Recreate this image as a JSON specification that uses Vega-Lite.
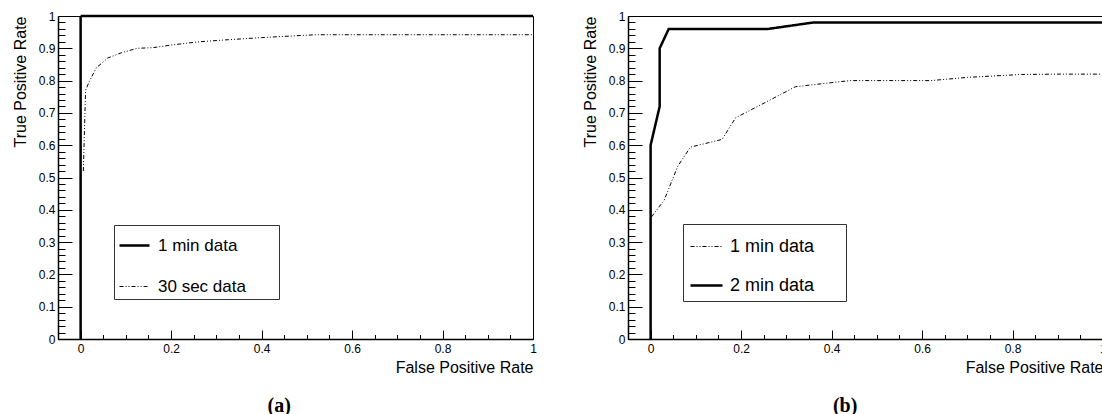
{
  "$schema": "https://vega.github.io/schema/vega-lite/v6.json",
  "background": "white",
  "padding": {"left": 11, "top": 9, "right": 0, "bottom": 0},
  "spacing": 42,
  "config": {
    "view": {"stroke": "#000", "strokeWidth": 1}
  },
  "datasets": {
    "roc": [
      {"panel": "a", "series": "1 min data", "ord": 1, "fpr": 0, "tpr": 0},
      {"panel": "a", "series": "1 min data", "ord": 2, "fpr": 0, "tpr": 1},
      {"panel": "a", "series": "1 min data", "ord": 3, "fpr": 1, "tpr": 1},
      {"panel": "a", "series": "30 sec data", "ord": 1, "fpr": 0.006, "tpr": 0.52},
      {"panel": "a", "series": "30 sec data", "ord": 2, "fpr": 0.011, "tpr": 0.77},
      {"panel": "a", "series": "30 sec data", "ord": 3, "fpr": 0.02, "tpr": 0.8},
      {"panel": "a", "series": "30 sec data", "ord": 4, "fpr": 0.035, "tpr": 0.84},
      {"panel": "a", "series": "30 sec data", "ord": 5, "fpr": 0.06, "tpr": 0.87},
      {"panel": "a", "series": "30 sec data", "ord": 6, "fpr": 0.09, "tpr": 0.886},
      {"panel": "a", "series": "30 sec data", "ord": 7, "fpr": 0.125, "tpr": 0.9},
      {"panel": "a", "series": "30 sec data", "ord": 8, "fpr": 0.16, "tpr": 0.902},
      {"panel": "a", "series": "30 sec data", "ord": 9, "fpr": 0.2, "tpr": 0.91},
      {"panel": "a", "series": "30 sec data", "ord": 10, "fpr": 0.26, "tpr": 0.92},
      {"panel": "a", "series": "30 sec data", "ord": 11, "fpr": 0.32, "tpr": 0.926},
      {"panel": "a", "series": "30 sec data", "ord": 12, "fpr": 0.4, "tpr": 0.933},
      {"panel": "a", "series": "30 sec data", "ord": 13, "fpr": 0.45, "tpr": 0.937},
      {"panel": "a", "series": "30 sec data", "ord": 14, "fpr": 0.52, "tpr": 0.942},
      {"panel": "a", "series": "30 sec data", "ord": 15, "fpr": 0.7, "tpr": 0.942},
      {"panel": "a", "series": "30 sec data", "ord": 16, "fpr": 1, "tpr": 0.942},
      {"panel": "b", "series": "2 min data", "ord": 1, "fpr": 0, "tpr": 0},
      {"panel": "b", "series": "2 min data", "ord": 2, "fpr": 0, "tpr": 0.6},
      {"panel": "b", "series": "2 min data", "ord": 3, "fpr": 0.02, "tpr": 0.72},
      {"panel": "b", "series": "2 min data", "ord": 4, "fpr": 0.02, "tpr": 0.9},
      {"panel": "b", "series": "2 min data", "ord": 5, "fpr": 0.04, "tpr": 0.96},
      {"panel": "b", "series": "2 min data", "ord": 6, "fpr": 0.26, "tpr": 0.96},
      {"panel": "b", "series": "2 min data", "ord": 7, "fpr": 0.36, "tpr": 0.98},
      {"panel": "b", "series": "2 min data", "ord": 8, "fpr": 1, "tpr": 0.98},
      {"panel": "b", "series": "1 min data", "ord": 1, "fpr": 0.002, "tpr": 0.378},
      {"panel": "b", "series": "1 min data", "ord": 2, "fpr": 0.03, "tpr": 0.43},
      {"panel": "b", "series": "1 min data", "ord": 3, "fpr": 0.06, "tpr": 0.535},
      {"panel": "b", "series": "1 min data", "ord": 4, "fpr": 0.088, "tpr": 0.594},
      {"panel": "b", "series": "1 min data", "ord": 5, "fpr": 0.12, "tpr": 0.605},
      {"panel": "b", "series": "1 min data", "ord": 6, "fpr": 0.158, "tpr": 0.618},
      {"panel": "b", "series": "1 min data", "ord": 7, "fpr": 0.188, "tpr": 0.685},
      {"panel": "b", "series": "1 min data", "ord": 8, "fpr": 0.26, "tpr": 0.737},
      {"panel": "b", "series": "1 min data", "ord": 9, "fpr": 0.32, "tpr": 0.781},
      {"panel": "b", "series": "1 min data", "ord": 10, "fpr": 0.364, "tpr": 0.788},
      {"panel": "b", "series": "1 min data", "ord": 11, "fpr": 0.44, "tpr": 0.8},
      {"panel": "b", "series": "1 min data", "ord": 12, "fpr": 0.62, "tpr": 0.8},
      {"panel": "b", "series": "1 min data", "ord": 13, "fpr": 0.7, "tpr": 0.81},
      {"panel": "b", "series": "1 min data", "ord": 14, "fpr": 0.82, "tpr": 0.819},
      {"panel": "b", "series": "1 min data", "ord": 15, "fpr": 0.9, "tpr": 0.82},
      {"panel": "b", "series": "1 min data", "ord": 16, "fpr": 1, "tpr": 0.82}
    ]
  },
  "data": {"name": "roc"},
  "resolve": {
    "scale": {"strokeDash": "independent", "strokeWidth": "independent"},
    "legend": {"strokeDash": "independent", "strokeWidth": "independent"}
  },
  "hconcat": [
    {
      "width": 475,
      "height": 323,
      "title": {"text": "(a)", "orient": "bottom", "anchor": "middle", "frame": "bounds", "font": "Liberation Serif", "fontSize": 20, "fontWeight": "bold", "color": "#000", "offset": 21, "dx": 4},
      "transform": [{"filter": "datum.panel == 'a'"}],
      "mark": {"type": "line", "color": "#000", "strokeCap": "butt", "strokeJoin": "miter"},
      "encoding": {
        "x": {"field": "fpr", "type": "quantitative", "scale": {"domain": [-0.05, 1], "nice": false, "zero": false},
          "axis": {"orient": "bottom", "zindex": 2, "title": "False Positive Rate", "titleAnchor": "end", "titleFont": "Liberation Sans", "titleFontSize": 16, "titleFontWeight": "normal", "titleColor": "#000", "titlePadding": 5,
            "values": [0, 0.05, 0.1, 0.15, 0.2, 0.25, 0.3, 0.35, 0.4, 0.45, 0.5, 0.55, 0.6, 0.65, 0.7, 0.75, 0.8, 0.85, 0.9, 0.95, 1],
            "labelExpr": "abs(datum.value * 5 - round(datum.value * 5)) < 0.001 ? format(datum.value, '~g') : ''",
            "labelFont": "Liberation Sans", "labelFontSize": 12, "labelColor": "#000", "labelPadding": 4, "labelOverlap": false, "labelFlush": false,
            "ticks": false, "domainColor": "#000", "domainWidth": 1.5,
            "grid": true, "gridColor": "#000", "gridWidth": 1, "gridOpacity": 1,
            "gridDash": {"condition": {"test": "abs(datum.value * 5 - round(datum.value * 5)) < 0.001", "value": [0, 314, 9, 3000]}, "value": [0, 318.5, 4.5, 3000]}}},
        "y": {"field": "tpr", "type": "quantitative", "scale": {"domain": [0, 1], "nice": false, "zero": false},
          "axis": {"orient": "left", "zindex": 2, "title": "True Positive Rate", "titleAnchor": "end", "titleFont": "Liberation Sans", "titleFontSize": 16, "titleFontWeight": "normal", "titleColor": "#000", "titlePadding": 10,
            "values": [0, 0.02, 0.04, 0.06, 0.08, 0.1, 0.12, 0.14, 0.16, 0.18, 0.2, 0.22, 0.24, 0.26, 0.28, 0.3, 0.32, 0.34, 0.36, 0.38, 0.4, 0.42, 0.44, 0.46, 0.48, 0.5, 0.52, 0.54, 0.56, 0.58, 0.6, 0.62, 0.64, 0.66, 0.68, 0.7, 0.72, 0.74, 0.76, 0.78, 0.8, 0.82, 0.84, 0.86, 0.88, 0.9, 0.92, 0.94, 0.96, 0.98, 1],
            "labelExpr": "abs(datum.value * 10 - round(datum.value * 10)) < 0.001 ? format(datum.value, '~g') : ''",
            "labelFont": "Liberation Sans", "labelFontSize": 12, "labelColor": "#000", "labelPadding": 3, "labelOverlap": false, "labelFlush": false,
            "ticks": false, "domainColor": "#000", "domainWidth": 1.5,
            "grid": true, "gridColor": "#000", "gridWidth": 1, "gridOpacity": 1,
            "gridDash": {"condition": {"test": "abs(datum.value * 10 - round(datum.value * 10)) < 0.001", "value": [14, 3000]}, "value": [7, 3000]}}},
        "order": {"field": "ord", "type": "quantitative"},
        "strokeDash": {"field": "series", "type": "nominal",
          "scale": {"domain": ["1 min data", "30 sec data"], "range": [[1, 0], [4, 2, 1, 2, 1, 2]]},
          "legend": {"orient": "none", "legendX": 56, "legendY": 209, "title": null, "symbolType": "stroke", "symbolSize": 900, "symbolStrokeColor": "#000", "labelFont": "Liberation Sans", "labelFontSize": 17, "labelColor": "#000", "labelOffset": 7, "labelLimit": 300, "labelExpr": "datum.label + '\u00a0\u00a0\u00a0\u00a0\u00a0\u00a0\u200b'", "padding": 4, "rowPadding": 17, "strokeColor": "#333", "fillColor": "#fff"}},
        "strokeWidth": {"field": "series", "type": "nominal",
          "scale": {"domain": ["1 min data", "30 sec data"], "range": [2.5, 1]},
          "legend": {"orient": "none", "legendX": 56, "legendY": 209, "title": null, "symbolType": "stroke", "symbolSize": 900, "symbolStrokeColor": "#000", "labelFont": "Liberation Sans", "labelFontSize": 17, "labelColor": "#000", "labelOffset": 7, "labelLimit": 300, "labelExpr": "datum.label + '\u00a0\u00a0\u00a0\u00a0\u00a0\u00a0\u200b'", "padding": 4, "rowPadding": 17, "strokeColor": "#333", "fillColor": "#fff"}}
      }
    },
    {
      "width": 475,
      "height": 323,
      "title": {"text": "(b)", "orient": "bottom", "anchor": "middle", "frame": "bounds", "font": "Liberation Serif", "fontSize": 20, "fontWeight": "bold", "color": "#000", "offset": 21, "dx": 0},
      "transform": [{"filter": "datum.panel == 'b'"}],
      "mark": {"type": "line", "color": "#000", "strokeCap": "butt", "strokeJoin": "miter"},
      "encoding": {
        "x": {"field": "fpr", "type": "quantitative", "scale": {"domain": [-0.05, 1], "nice": false, "zero": false},
          "axis": {"orient": "bottom", "zindex": 2, "title": "False Positive Rate", "titleAnchor": "end", "titleFont": "Liberation Sans", "titleFontSize": 16, "titleFontWeight": "normal", "titleColor": "#000", "titlePadding": 5,
            "values": [0, 0.05, 0.1, 0.15, 0.2, 0.25, 0.3, 0.35, 0.4, 0.45, 0.5, 0.55, 0.6, 0.65, 0.7, 0.75, 0.8, 0.85, 0.9, 0.95, 1],
            "labelExpr": "abs(datum.value * 5 - round(datum.value * 5)) < 0.001 ? format(datum.value, '~g') : ''",
            "labelFont": "Liberation Sans", "labelFontSize": 12, "labelColor": "#000", "labelPadding": 4, "labelOverlap": false, "labelFlush": false,
            "ticks": false, "domainColor": "#000", "domainWidth": 1.5,
            "grid": true, "gridColor": "#000", "gridWidth": 1, "gridOpacity": 1,
            "gridDash": {"condition": {"test": "abs(datum.value * 5 - round(datum.value * 5)) < 0.001", "value": [0, 314, 9, 3000]}, "value": [0, 318.5, 4.5, 3000]}}},
        "y": {"field": "tpr", "type": "quantitative", "scale": {"domain": [0, 1], "nice": false, "zero": false},
          "axis": {"orient": "left", "zindex": 2, "title": "True Positive Rate", "titleAnchor": "end", "titleFont": "Liberation Sans", "titleFontSize": 16, "titleFontWeight": "normal", "titleColor": "#000", "titlePadding": 10,
            "values": [0, 0.02, 0.04, 0.06, 0.08, 0.1, 0.12, 0.14, 0.16, 0.18, 0.2, 0.22, 0.24, 0.26, 0.28, 0.3, 0.32, 0.34, 0.36, 0.38, 0.4, 0.42, 0.44, 0.46, 0.48, 0.5, 0.52, 0.54, 0.56, 0.58, 0.6, 0.62, 0.64, 0.66, 0.68, 0.7, 0.72, 0.74, 0.76, 0.78, 0.8, 0.82, 0.84, 0.86, 0.88, 0.9, 0.92, 0.94, 0.96, 0.98, 1],
            "labelExpr": "abs(datum.value * 10 - round(datum.value * 10)) < 0.001 ? format(datum.value, '~g') : ''",
            "labelFont": "Liberation Sans", "labelFontSize": 12, "labelColor": "#000", "labelPadding": 3, "labelOverlap": false, "labelFlush": false,
            "ticks": false, "domainColor": "#000", "domainWidth": 1.5,
            "grid": true, "gridColor": "#000", "gridWidth": 1, "gridOpacity": 1,
            "gridDash": {"condition": {"test": "abs(datum.value * 10 - round(datum.value * 10)) < 0.001", "value": [14, 3000]}, "value": [7, 3000]}}},
        "order": {"field": "ord", "type": "quantitative"},
        "strokeDash": {"field": "series", "type": "nominal",
          "scale": {"domain": ["1 min data", "2 min data"], "range": [[4, 2, 1, 2, 1, 2], [1, 0]]},
          "legend": {"orient": "none", "legendX": 55, "legendY": 208, "title": null, "symbolType": "stroke", "symbolSize": 1024, "symbolStrokeColor": "#000", "labelFont": "Liberation Sans", "labelFontSize": 18, "labelColor": "#000", "labelOffset": 6, "labelLimit": 300, "labelExpr": "datum.label + '\u00a0\u00a0\u00a0\u00a0\u00a0\u200b'", "padding": 6, "rowPadding": 12, "strokeColor": "#333", "fillColor": "#fff"}},
        "strokeWidth": {"field": "series", "type": "nominal",
          "scale": {"domain": ["1 min data", "2 min data"], "range": [1, 2.5]},
          "legend": {"orient": "none", "legendX": 55, "legendY": 208, "title": null, "symbolType": "stroke", "symbolSize": 1024, "symbolStrokeColor": "#000", "labelFont": "Liberation Sans", "labelFontSize": 18, "labelColor": "#000", "labelOffset": 6, "labelLimit": 300, "labelExpr": "datum.label + '\u00a0\u00a0\u00a0\u00a0\u00a0\u200b'", "padding": 6, "rowPadding": 12, "strokeColor": "#333", "fillColor": "#fff"}}
      }
    }
  ]
}
